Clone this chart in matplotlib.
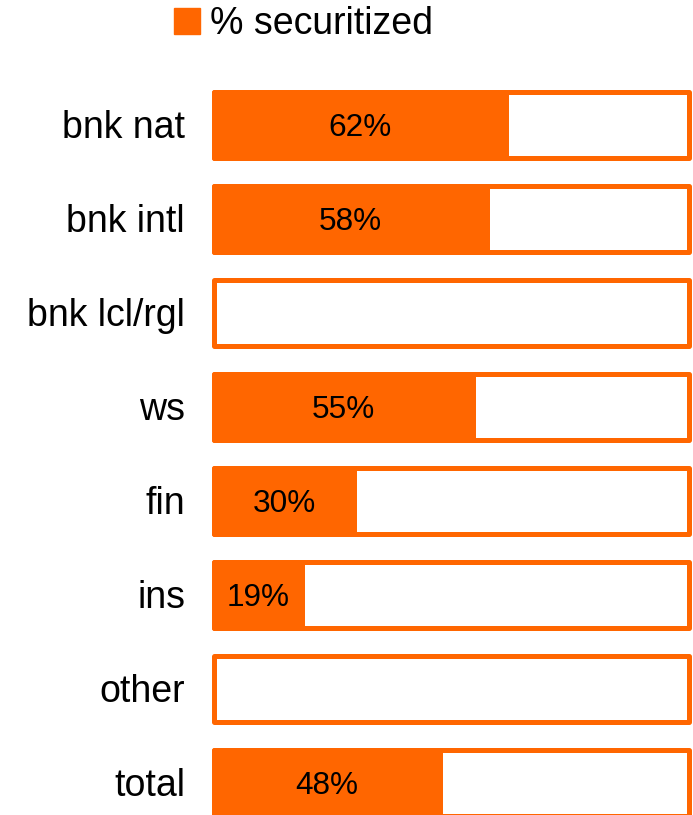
import matplotlib
matplotlib.use("Agg")
import matplotlib.pyplot as plt
from matplotlib.patches import Patch

plt.rcParams['font.family'] = ['Liberation Sans', 'DejaVu Sans']

categories = ["bnk nat", "bnk intl", "bnk lcl/rgl", "ws", "fin", "ins", "other", "total"]
pct_securitized = [62, 58, 0, 55, 30, 19, 0, 48]
legend_label = "% securitized"

ORANGE = "#FF6600"
W, H = 693, 815
fig = plt.figure(figsize=(W / 100, H / 100), dpi=100)

x0, x1 = 214, 688.5
ax = fig.add_axes([x0 / W, 0, (x1 - x0) / W, 1])
ax.set_xlim(0, 100)
ax.set_ylim((H - 125) / 94, -125 / 94)
ax.axis('off')

ypos = list(range(len(categories)))
lw = 3.6
bh = 0.70
ax.barh(ypos, [100] * len(categories), height=bh, color='white',
        edgecolor=ORANGE, linewidth=lw, joinstyle='round', clip_on=False)
ax.barh(ypos, [v - 0.4 if v > 0 else 0 for v in pct_securitized], height=bh, color=ORANGE,
        edgecolor=ORANGE, linewidth=lw, joinstyle='round', clip_on=False)

dy = 3 / 94
for y, cat, v in zip(ypos, categories, pct_securitized):
    ax.text(-6.1, y + dy, cat, ha='right', va='center', fontsize=27, color='black')
    if v > 0:
        ax.text(v / 2 - 0.2, y + dy, f"{v}%", ha='center', va='center', fontsize=22.7, color='black')

fig.legend(handles=[Patch(facecolor=ORANGE, edgecolor=ORANGE)], labels=[legend_label],
           loc='center left', bbox_to_anchor=(174 / W, 1 - 24 / H), frameon=False,
           fontsize=27, handlelength=0.7, handleheight=0.7, handletextpad=0.25,
           borderpad=0, borderaxespad=0)

fig.savefig("out.png", dpi=100)
